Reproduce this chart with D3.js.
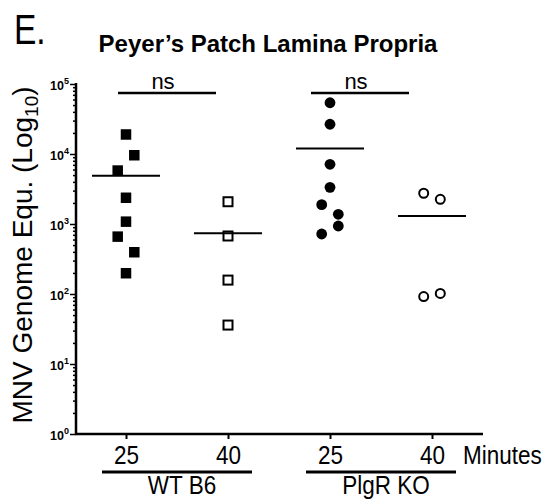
<!DOCTYPE html>
<html>
<head>
    <title>Peyer's Patch Lamina Propria</title>
    <script src="https://d3js.org/d3.v7.min.js"></script>
    <style>
        body { margin: 0; background: #fff; }
        text { font-family: "Liberation Sans", Arial, sans-serif; fill: #000; }
    </style>
</head>
<body>
    <div id="chart"></div>
    <script>
        // Data (genome equivalents)
        const categories = ["wt25", "wt40", "ko25", "ko40"];
        const tickLabels = ["25", "40", "25", "40"];
        const groups = ["WT B6", "PlgR KO"];
        const wt25 = [19000, 9600, 5800, 2370, 1080, 660, 395, 198];
        const wt40 = [2080, 674, 158, 36];
        const ko25 = [54000, 26600, 7130, 3340, 1890, 1376, 936, 720];
        const ko40 = [2750, 2250, 92, 102];
        // which scatter column each point sits in (-1 left, 0 centre, 1 right)
        const wt25Col = [0, 1, -1, 0, 0, -1, 1, 0];
        const wt40Col = [0, 0, 0, 0];
        const ko25Col = [0, 0, 0, 0, -1, 1, 1, -1];
        const ko40Col = [-1, 1, -1, 1];
        const yTicks = [1, 10, 100, 1000, 10000, 100000];
        const sigLabels = ["ns", "ns"];

        const width = 547;
        const height = 504;

        const svg = d3.select("#chart")
            .append("svg")
            .attr("width", width)
            .attr("height", height);

        const x = d3.scalePoint()
            .domain(categories)
            .range([126, 432]);

        const y = d3.scaleLog()
            .domain([1, 100000])
            .range([434, 84]);

        const series = [
            { id: "wt25", values: wt25, cols: wt25Col, shape: "square", filled: true },
            { id: "wt40", values: wt40, cols: wt40Col, shape: "square", filled: false },
            { id: "ko25", values: ko25, cols: ko25Col, shape: "circle", filled: true },
            { id: "ko40", values: ko40, cols: ko40Col, shape: "circle", filled: false }
        ];

        // the original figure is a little squeezed sideways
        const squeeze = 0.9;

        // panel letter and title
        svg.append("text")
            .attr("transform", "translate(14,44) scale(0.78,1)")
            .style("font-size", "43px")
            .text("E.");

        svg.append("text")
            .attr("x", 268)
            .attr("y", 52)
            .attr("text-anchor", "middle")
            .style("font-size", "24px")
            .style("font-weight", "bold")
            .text("Peyer\u2019s Patch Lamina Propria");

        // y axis: major and minor ticks
        const minor = [];
        for (let k = 0; k < 5; k++) {
            for (let m = 2; m <= 9; m++) minor.push(m * Math.pow(10, k));
        }

        const yAxisMinor = svg.append("g")
            .attr("transform", "translate(76,0)")
            .call(d3.axisLeft(y).tickValues(minor).tickSize(3).tickFormat(""));

        const yAxis = svg.append("g")
            .attr("transform", "translate(76,0)")
            .call(d3.axisLeft(y).tickValues(yTicks).tickSize(6).tickFormat(""));

        [yAxisMinor, yAxis].forEach(function(g) {
            g.selectAll("line").attr("stroke", "#000").attr("stroke-width", 1.5);
            g.select(".domain").remove();
        });

        svg.append("line")
            .attr("x1", 76).attr("x2", 76)
            .attr("y1", y(100000) - 1).attr("y2", y(1) + 1)
            .attr("stroke", "#000").attr("stroke-width", 2.5);

        yAxis.selectAll(".tick").each(function(d) {
            const t = d3.select(this).append("text")
                .attr("x", -7)
                .attr("y", 5)
                .attr("text-anchor", "end")
                .style("font-size", "12.5px")
                .style("font-weight", "bold");
            t.append("tspan").text("10");
            t.append("tspan")
                .attr("dy", -5.5)
                .style("font-size", "9px")
                .text(Math.round(Math.log10(d)));
        });

        // y label
        const yl = svg.append("text")
            .attr("transform", "translate(32,255) rotate(-90)")
            .attr("text-anchor", "middle")
            .style("font-size", "28px");
        yl.append("tspan").text("MNV Genome Equ. (Log");
        yl.append("tspan").attr("dy", 6).style("font-size", "19px").text("10");
        yl.append("tspan").attr("dy", -6).text(")");

        // x axis
        const xAxis = svg.append("g")
            .attr("transform", "translate(0,434)")
            .call(d3.axisBottom(x).tickSize(5).tickFormat((d, i) => tickLabels[i]));

        xAxis.select(".domain").remove();
        xAxis.selectAll("line").attr("stroke", "#000").attr("stroke-width", 2);
        xAxis.selectAll("text")
            .attr("y", 0)
            .attr("dy", 0)
            .attr("transform", "translate(0,30) scale(" + squeeze + ",1)")
            .style("font-family", "Liberation Sans, Arial, sans-serif")
            .style("font-size", "25px")
            .attr("fill", "#000");

        svg.append("line")
            .attr("x1", 75).attr("x2", 483)
            .attr("y1", 434).attr("y2", 434)
            .attr("stroke", "#000").attr("stroke-width", 2.5);

        svg.append("text")
            .attr("transform", "translate(463,464) scale(" + squeeze + ",1)")
            .style("font-size", "25px")
            .text("Minutes");

        // group brackets under the axis
        groups.forEach(function(g, i) {
            const a = x(categories[i * 2]);
            const b = x(categories[i * 2 + 1]);
            const c = (a + b) / 2;
            svg.append("line")
                .attr("x1", a - 24).attr("x2", b + 24)
                .attr("y1", 472).attr("y2", 472)
                .attr("stroke", "#000").attr("stroke-width", 3);
            svg.append("text")
                .attr("transform", "translate(" + (c + 5) + ",494) scale(" + squeeze + ",1)")
                .attr("text-anchor", "middle")
                .style("font-size", "25px")
                .text(g);
        });

        // significance bars
        const sigShift = [-10, -21];
        sigLabels.forEach(function(s, i) {
            const c = (x(categories[i * 2]) + x(categories[i * 2 + 1])) / 2 + sigShift[i];
            svg.append("line")
                .attr("x1", c - 49).attr("x2", c + 49)
                .attr("y1", 93).attr("y2", 93)
                .attr("stroke", "#000").attr("stroke-width", 2.5);
            svg.append("text")
                .attr("x", c - 4)
                .attr("y", 89)
                .attr("text-anchor", "middle")
                .style("font-size", "22px")
                .text(s);
        });

        // points and mean lines
        const colStep = 8.3;
        series.forEach(function(s) {
            const cx = x(s.id);
            const g = svg.append("g");
            s.values.forEach(function(v, i) {
                const px = cx + s.cols[i] * colStep;
                const py = y(v);
                if (s.shape === "square") {
                    const size = s.filled ? 10.5 : 9;
                    g.append("rect")
                        .attr("x", px - size / 2).attr("y", py - size / 2)
                        .attr("width", size).attr("height", size)
                        .attr("fill", s.filled ? "#000" : "#fff")
                        .attr("stroke", "#000")
                        .attr("stroke-width", s.filled ? 0 : 2);
                } else {
                    g.append("circle")
                        .attr("cx", px).attr("cy", py)
                        .attr("r", s.filled ? 5.4 : 4.5)
                        .attr("fill", s.filled ? "#000" : "#fff")
                        .attr("stroke", "#000")
                        .attr("stroke-width", s.filled ? 0 : 2);
                }
            });
            const m = d3.mean(s.values);
            g.append("line")
                .attr("x1", cx - 34).attr("x2", cx + 34)
                .attr("y1", y(m)).attr("y2", y(m))
                .attr("stroke", "#000").attr("stroke-width", 2);
        });
    </script>
</body>
</html>
